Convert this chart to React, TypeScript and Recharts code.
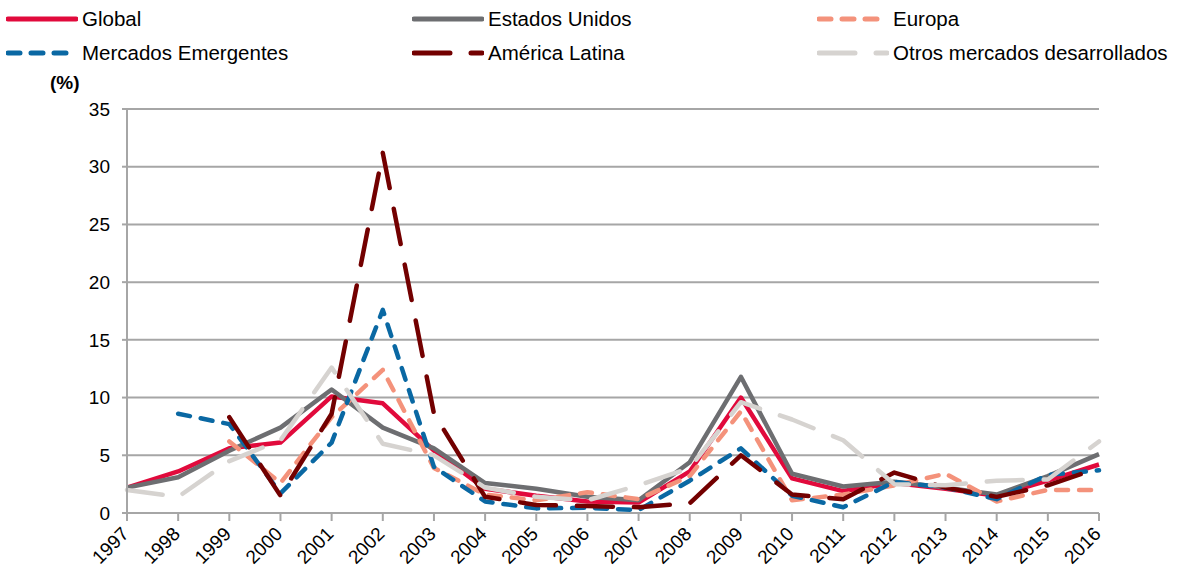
import { LineChart, Line, XAxis, YAxis, CartesianGrid } from "recharts"

// Años del eje X
const years = ["1997", "1998", "1999", "2000", "2001", "2002", "2003", "2004", "2005", "2006", "2007", "2008", "2009", "2010", "2011", "2012", "2013", "2014", "2015", "2016"]

// Valores (%)
const globalValues = [2.2, 3.6, 5.6, 6.1, 10.1, 9.5, 5.4, 2.1, 1.5, 1.0, 0.9, 3.6, 10.0, 3.0, 1.9, 2.6, 2.1, 1.5, 2.8, 4.2]
const eeuuValues = [2.2, 3.1, 5.4, 7.4, 10.7, 7.4, 5.6, 2.6, 2.1, 1.4, 1.1, 4.4, 11.8, 3.4, 2.3, 2.7, 2.2, 1.6, 3.2, 5.1]
const europaValues = [null, null, 6.2, 2.6, 8.3, 12.4, 3.9, 1.6, 1.1, 1.8, 1.2, 3.2, 8.8, 1.1, 1.6, 2.4, 3.4, 1.0, 2.0, 2.0]
const emergentesValues = [null, 8.6, 7.7, 1.7, 6.1, 17.6, 4.0, 1.0, 0.4, 0.45, 0.25, 2.8, 5.6, 1.5, 0.5, 2.7, 2.2, 1.2, 3.3, 3.7]
const latamValues = [null, null, 8.3, 1.5, 8.6, 31.2, 8.6, 1.4, 0.7, 0.6, 0.5, 0.85, 5.0, 1.6, 1.2, 3.5, 2.2, 1.4, 2.4, 3.9]
const otrosValues = [2.0, 1.4, 4.5, 6.3, 12.6, 6.0, 5.0, 2.2, 1.4, 1.1, 2.4, 3.9, 9.6, 8.1, 6.3, 2.5, 2.4, 2.8, 2.9, 6.2]

const yTicks = [0, 5, 10, 15, 20, 25, 30, 35]

const SHORT_DASH = "12 11"
const LONG_DASH = "36 21"

const series = [
  { key: "global", name: "Global", color: "#e10a3c", dash: undefined as string | undefined },
  { key: "eeuu", name: "Estados Unidos", color: "#6d6e71", dash: undefined as string | undefined },
  { key: "europa", name: "Europa", color: "#f4927b", dash: SHORT_DASH },
  { key: "emergentes", name: "Mercados Emergentes", color: "#0a68a3", dash: SHORT_DASH },
  { key: "latam", name: "América Latina", color: "#730000", dash: LONG_DASH },
  { key: "otros", name: "Otros mercados desarrollados", color: "#d6d3d0", dash: LONG_DASH },
]

const data = years.map((year, i) => ({
  year,
  global: globalValues[i],
  eeuu: eeuuValues[i],
  europa: europaValues[i],
  emergentes: emergentesValues[i],
  latam: latamValues[i],
  otros: otrosValues[i],
}))

const FONT = "'Liberation Sans', Arial, sans-serif"
const GRID = "#a6a6a6"

// etiqueta rotada del eje X
const YearTick = (props: any) => {
  const { x, y, payload } = props
  const tx = x + 3
  const ty = y + 12
  return (
    <text x={tx} y={ty} textAnchor="end" fontSize={19} fill="#000" fontFamily={FONT} transform={`rotate(-45, ${tx}, ${ty})`}>
      {payload.value}
    </text>
  )
}

export default function App() {
  // posiciones de la leyenda (3 columnas, 2 filas)
  const cols = [6, 412, 817]
  const rows = [19, 53]

  return (
    <div style={{ position: "absolute", left: 0, top: 0, width: 1178, height: 573, background: "#fff", fontFamily: FONT }}>
      {series.map((s, i) => {
        const left = cols[i % 3]
        const top = rows[Math.floor(i / 3)]
        return (
          <div key={s.key} style={{ position: "absolute", left, top: top - 12, height: 24, display: "flex", alignItems: "center", whiteSpace: "nowrap" }}>
            <svg width={72} height={10} style={{ display: "block" }}>
              <line x1={2} y1={5} x2={70} y2={5} stroke={s.color} strokeWidth={5} strokeDasharray={s.dash} strokeLinecap="round" />
            </svg>
            <span style={{ marginLeft: 4, fontSize: 20.5, color: "#000" }}>{s.name}</span>
          </div>
        )
      })}
      <div style={{ position: "absolute", left: 50, top: 72, fontSize: 19, fontWeight: "bold", color: "#000" }}>(%)</div>

      <LineChart width={1178} height={573} data={data} margin={{ top: 109, right: 79, left: 67, bottom: 0 }}>
        <CartesianGrid vertical={false} stroke={GRID} strokeWidth={2} />
        <XAxis
          dataKey="year"
          interval={0}
          height={60}
          tick={<YearTick />}
          tickSize={8}
          tickLine={{ stroke: GRID, strokeWidth: 2 }}
          axisLine={{ stroke: GRID, strokeWidth: 2 }}
        />
        <YAxis
          domain={[0, 35]}
          ticks={yTicks}
          interval={0}
          width={60}
          tickSize={5}
          tickMargin={12}
          tick={{ fontSize: 19, fill: "#000", fontFamily: FONT }}
          tickLine={{ stroke: GRID, strokeWidth: 2 }}
          axisLine={{ stroke: GRID, strokeWidth: 2 }}
        />
        {series.map((s) => (
          <Line
            key={s.key}
            type="linear"
            dataKey={s.key}
            name={s.name}
            stroke={s.color}
            strokeWidth={4.5}
            strokeDasharray={s.dash}
            strokeLinecap={s.dash ? "round" : "butt"}
            strokeLinejoin="round"
            dot={false}
            activeDot={false}
            isAnimationActive={false}
          />
        ))}
      </LineChart>
    </div>
  )
}
